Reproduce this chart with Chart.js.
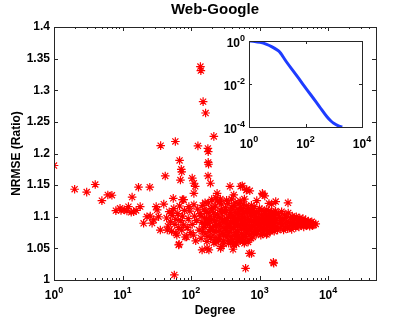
<!DOCTYPE html>
<html>
<head>
<meta charset="utf-8">
<script src="https://cdn.jsdelivr.net/npm/chart.js@4/dist/chart.umd.min.js"></script>
<style>
  html, body { margin: 0; padding: 0; background: #fff; }
  #wrap { position: relative; width: 415px; height: 319px; }
  #mainChart { position: absolute; left: 0; top: 0; }
  #insetChart { position: absolute; left: 200px; top: 28px; }
</style>
</head>
<body>
<div id="wrap">
  <canvas id="mainChart" width="415" height="319"></canvas>
  <canvas id="insetChart" width="180" height="125"></canvas>
</div>
<script>
// main scatter: [degree, NRMSE ratio]
const outlierPoints = [
  [1, 1.181], [2, 1.1435], [3, 1.139], [4, 1.151], [5, 1.1255], [6.1, 1.1345], [7, 1.134],
  [8, 1.1097], [9.2, 1.1134], [9.5, 1.11], [10.6, 1.111], [11.6, 1.109], [12.2, 1.116],
  [13.8, 1.131], [13.4, 1.107], [14.5, 1.108], [15.8, 1.11], [17.1, 1.1467], [18.1, 1.116],
  [20.3, 1.0897], [22.7, 1.1], [25, 1.1467], [25.4, 1.101], [27, 1.09], [28.5, 1.095],
  [31, 1.116], [32, 1.111], [33.6, 1.1], [35.6, 1.079], [40, 1.12], [42, 1.1645], [45, 1.079],
  [52, 1.106], [55, 1.129], [60, 1.074], [67, 1.0565], [75, 1.127], [57, 1.008],
  [137, 1.3375], [139, 1.331], [150, 1.282], [163, 1.264], [215, 1.227], [36, 1.2125],
  [59, 1.219], [126, 1.212], [176, 1.208], [178, 1.203], [68, 1.189], [72, 1.175], [73, 1.171],
  [70, 1.158], [178, 1.186], [180, 1.183], [177, 1.1645], [192, 1.153], [104, 1.161],
  [110, 1.153], [115, 1.148],
  [560, 1.149], [720, 1.141], [1190, 1.133], [910, 1.1255], [1370, 1.121], [1720, 1.124],
  [600, 1.128], [370, 1.148], [530, 1.148], [110, 1.137], [78, 1.127], [240, 1.137],
  [420, 1.1345], [640, 1.142], [650, 1.143], [1100, 1.137], [1120, 1.135], [2600, 1.122],
  [1500, 1.12],
  [66, 1.0554], [182, 1.0475], [172, 1.05], [270, 1.05], [410, 1.0486], [625, 1.0185],
  [710, 1.042], [760, 1.042], [1590, 1.028], [1610, 1.0265], [145, 1.0475], [590, 1.063],
  [275, 1.053], [6600, 1.0886]
];
const clusterPoints = [
  [44, 1.098], [46, 1.085], [48, 1.108], [50, 1.092], [52, 1.077], [53, 1.102], [56, 1.113],
  [58, 1.088], [60, 1.096], [62, 1.071], [64, 1.105], [66, 1.083], [68, 1.117], [71, 1.094],
  [73, 1.079], [75, 1.101], [78, 1.087], [80, 1.11], [82, 1.068],
  [86, 1.068], [91, 1.097], [88, 1.083], [96, 1.109], [99, 1.075], [93, 1.116],
  [104, 1.088], [108, 1.071], [112, 1.101], [117, 1.062], [121, 1.094], [125, 1.112], [110, 1.119],
  [131, 1.079], [135, 1.105], [140, 1.066], [144, 1.091], [148, 1.118], [152, 1.084], [157, 1.098], [160, 1.073],
  [166, 1.108], [170, 1.061], [174, 1.089], [179, 1.122], [184, 1.077], [189, 1.101], [194, 1.067], [198, 1.113], [186, 1.093],
  [205, 1.083], [210, 1.071], [214, 1.106], [220, 1.094], [226, 1.117], [231, 1.063], [236, 1.088], [242, 1.125], [247, 1.077], [216, 1.059],
  [255, 1.099], [260, 1.068], [266, 1.111], [272, 1.085], [279, 1.12], [285, 1.074], [291, 1.095], [298, 1.062], [304, 1.107], [310, 1.081], [268, 1.128], [300, 1.091],
  [317, 1.114], [324, 1.069], [331, 1.097], [339, 1.087], [346, 1.121], [354, 1.058], [362, 1.103], [370, 1.076], [378, 1.092], [386, 1.115], [335, 1.078], [366, 1.084],
  [395, 1.064], [404, 1.098], [413, 1.083], [422, 1.118], [431, 1.071], [441, 1.106], [450, 1.09], [460, 1.057], [470, 1.112], [478, 1.079], [418, 1.094], [455, 1.068],
  [489, 1.097], [500, 1.121], [511, 1.066], [522, 1.086], [534, 1.104], [546, 1.074], [558, 1.094], [570, 1.061], [583, 1.109], [596, 1.082], [528, 1.115], [565, 1.1],
  [610, 1.091], [624, 1.069], [638, 1.117], [652, 1.079], [667, 1.098], [682, 1.063], [697, 1.107], [713, 1.085], [729, 1.072], [745, 1.112], [660, 1.088], [720, 1.095],
  [762, 1.081], [780, 1.101], [797, 1.068], [815, 1.092], [833, 1.116], [852, 1.077], [871, 1.096], [891, 1.072], [911, 1.108], [932, 1.087],
  [953, 1.099], [975, 1.079], [997, 1.113], [1020, 1.089], [1043, 1.071], [1067, 1.103], [1091, 1.084], [1116, 1.095], [1141, 1.076], [1167, 1.108],
  [1194, 1.088], [1221, 1.098], [1249, 1.081], [1277, 1.111], [1306, 1.074], [1336, 1.093], [1366, 1.103], [1397, 1.086], [1429, 1.077], [1462, 1.097], [1495, 1.108], [1529, 1.083],
  [1564, 1.091], [1600, 1.102], [1636, 1.077], [1673, 1.094], [1711, 1.109], [1750, 1.085], [1790, 1.097], [1831, 1.079], [1873, 1.105], [1915, 1.089], [1959, 1.099], [2003, 1.082], [2049, 1.094], [2096, 1.108], [2144, 1.087],
  [2193, 1.097], [2240, 1.079], [2301, 1.103], [2346, 1.09], [2392, 1.084], [2460, 1.099], [2510, 1.093], [2571, 1.081], [2620, 1.106], [2690, 1.091], [2746, 1.085], [2815, 1.098], [2870, 1.09], [2941, 1.08], [3002, 1.101], [3080, 1.093], [3139, 1.086],
  [3220, 1.097], [3281, 1.089], [3370, 1.083], [3433, 1.1], [3521, 1.092], [3590, 1.087], [3688, 1.095], [3757, 1.084], [3852, 1.098], [3930, 1.09], [4033, 1.086], [4110, 1.094], [4218, 1.089], [4297, 1.097], [4410, 1.084],
  [4498, 1.092], [4615, 1.088], [4702, 1.095], [4826, 1.086], [4919, 1.091], [5047, 1.087], [5149, 1.093], [5280, 1.089], [5385, 1.085], [5520, 1.091], [5633, 1.088], [5775, 1.092], [5890, 1.086], [6040, 1.089], [6165, 1.087],
  [140, 1.101], [147, 1.077], [155, 1.111], [162, 1.088], [169, 1.097], [176, 1.069], [183, 1.107], [191, 1.083], [199, 1.096], [208, 1.114], [217, 1.078], [223, 1.1], [233, 1.086], [244, 1.104], [250, 1.066],
  [258, 1.09], [264, 1.079], [276, 1.098], [288, 1.108], [295, 1.072], [307, 1.094], [320, 1.082], [328, 1.11], [342, 1.071], [350, 1.099], [358, 1.089], [374, 1.107], [383, 1.069], [391, 1.081], [400, 1.102],
  [409, 1.112], [427, 1.087], [436, 1.097], [446, 1.075], [465, 1.093], [474, 1.104], [485, 1.087], [495, 1.071], [506, 1.109], [517, 1.095], [540, 1.08], [552, 1.113], [577, 1.089], [590, 1.071], [603, 1.099],
  [617, 1.108], [631, 1.084], [645, 1.074], [675, 1.092], [690, 1.113], [705, 1.079], [737, 1.104], [753, 1.066], [771, 1.093], [789, 1.11], [806, 1.086], [824, 1.074], [843, 1.105], [862, 1.091], [881, 1.082],
  [901, 1.099], [921, 1.076], [942, 1.094], [964, 1.106], [986, 1.087], [1009, 1.097], [1032, 1.08], [1055, 1.09], [1079, 1.111], [1104, 1.073], [1128, 1.1], [1154, 1.091], [1180, 1.081], [1207, 1.105],
  [1235, 1.092], [1263, 1.072], [1292, 1.099], [1321, 1.084], [1351, 1.109], [1382, 1.078], [1413, 1.09], [1445, 1.101], [1478, 1.092], [1512, 1.096], [1547, 1.079], [1582, 1.106], [1618, 1.089], [1655, 1.1], [1693, 1.083], [1731, 1.093],
  [230, 1.06], [300, 1.057], [380, 1.061], [450, 1.059], [520, 1.062], [600, 1.058], [680, 1.06], [250, 1.064], [420, 1.056], [350, 1.063], [560, 1.065], [480, 1.063],
  [160, 1.122], [200, 1.127], [260, 1.124], [330, 1.126], [440, 1.122], [580, 1.12], [760, 1.118], [230, 1.13], [390, 1.128], [520, 1.125]
];

// inset: fraction of nodes with degree >= d
const ccdfDegree = [1, 1.6, 2.5, 4, 6.3, 10, 12.6, 15.8, 22, 40, 79, 158, 316, 575, 794, 1000, 1410, 2000];
const ccdfFraction = [1, 0.955, 0.86, 0.72, 0.55, 0.38, 0.295, 0.19, 0.1, 0.035, 0.0102, 0.003, 0.00087, 0.0003, 0.00019, 0.000148, 0.000115, 0.0001];

// ticks; log axes are labelled as 10 with an exponent
const mainXTicks = [1, 10, 100, 1000, 10000];
const mainXExp = ['0', '1', '2', '3', '4'];
const mainYTicks = [1, 1.05, 1.1, 1.15, 1.2, 1.25, 1.3, 1.35, 1.4];
const mainYLabels = ['1', '1.05', '1.1', '1.15', '1.2', '1.25', '1.3', '1.35', '1.4'];
const insetXTicks = [1, 100, 10000];
const insetXExp = ['0', '2', '4'];
const insetYTicks = [0.0001, 0.01, 1];
const insetYExp = ['-4', '-2', '0'];

const FONT = "'Liberation Sans', Arial, Helvetica, sans-serif";
Chart.defaults.font.family = FONT;
Chart.defaults.color = '#000';

function logMinor(min, max) {
  const out = [];
  for (let d = 1; d <= max; d *= 10) {
    for (let k = 2; k <= 9; k++) {
      const v = k * d;
      if (v > min && v < max) out.push(v);
    }
  }
  return out;
}

function drawPower(ctx, exp, x, baseline, align) {
  ctx.font = 'bold 12px ' + FONT;
  const wb = ctx.measureText('10').width;
  ctx.font = 'bold 9px ' + FONT;
  const we = ctx.measureText(exp).width;
  const x0 = align === 'right' ? x - wb - we : x - (wb + we) / 2;
  ctx.textAlign = 'left';
  ctx.textBaseline = 'alphabetic';
  ctx.fillStyle = '#000';
  ctx.font = 'bold 12px ' + FONT;
  ctx.fillText('10', x0, baseline);
  ctx.font = 'bold 9px ' + FONT;
  ctx.fillText(exp, x0 + wb, baseline - 6);
}

// box around the plot area, inward ticks on all four sides, power-of-ten labels
const frameTicks = {
  id: 'frameTicks',
  beforeDatasetsDraw(chart, args, opts) {
    if (!opts.fill) return;
    const a = chart.chartArea, ctx = chart.ctx;
    ctx.save();
    ctx.fillStyle = opts.fill;
    ctx.fillRect(a.left, a.top, a.right - a.left, a.bottom - a.top);
    ctx.restore();
  },
  afterDraw(chart, args, opts) {
    const {ctx, chartArea: a, scales} = chart;
    ctx.save();
    ctx.strokeStyle = opts.color;
    ctx.lineWidth = 1;
    ctx.beginPath();
    const vTick = (v, len) => {
      const p = Math.round(scales.x.getPixelForValue(v)) + 0.5;
      ctx.moveTo(p, a.bottom); ctx.lineTo(p, a.bottom - len);
      ctx.moveTo(p, a.top); ctx.lineTo(p, a.top + len);
    };
    const hTick = (v, len) => {
      const p = Math.round(scales.y.getPixelForValue(v)) + 0.5;
      ctx.moveTo(a.left, p); ctx.lineTo(a.left + len, p);
      ctx.moveTo(a.right, p); ctx.lineTo(a.right - len, p);
    };
    opts.xMajor.forEach(v => vTick(v, opts.major));
    (opts.xMinor || []).forEach(v => vTick(v, opts.minor));
    opts.yMajor.forEach(v => hTick(v, opts.major));
    ctx.stroke();
    ctx.strokeRect(Math.round(a.left) + 0.5, Math.round(a.top) + 0.5,
                   Math.round(a.right - a.left), Math.round(a.bottom - a.top));
    if (opts.xExp) {
      opts.xMajor.forEach((v, i) =>
        drawPower(ctx, opts.xExp[i], scales.x.getPixelForValue(v), a.bottom + opts.xLabelOffset, 'center'));
    }
    if (opts.yExp) {
      opts.yMajor.forEach((v, i) =>
        drawPower(ctx, opts.yExp[i], a.left - 4, scales.y.getPixelForValue(v) + 5.5, 'right'));
    }
    ctx.restore();
  }
};

const toXY = arr => arr.map(p => ({x: p[0], y: p[1]}));

new Chart(document.getElementById('mainChart'), {
  type: 'scatter',
  data: {
    datasets: [{
      data: toXY(clusterPoints.concat(outlierPoints)),
      pointStyle: 'star',
      radius: 4.3,
      borderColor: 'rgb(255,0,0)',
      backgroundColor: 'rgb(255,0,0)',
      borderWidth: 1.2
    }]
  },
  options: {
    responsive: false,
    animation: false,
    devicePixelRatio: 1,
    layout: {padding: {left: 0, right: 39, top: 0, bottom: 0}},
    plugins: {
      legend: {display: false},
      tooltip: {enabled: false},
      title: {
        display: true, fullSize: false, text: 'Web-Google', color: '#000',
        font: {size: 15, weight: 'bold'}, padding: {top: 1, bottom: 8}
      },
      frameTicks: {
        color: '#262626', major: 4, minor: 2,
        xMajor: mainXTicks, xMinor: logMinor(1, 50000), yMajor: mainYTicks,
        xExp: mainXExp, xLabelOffset: 19
      }
    },
    scales: {
      x: {
        type: 'logarithmic', min: 1, max: 50000,
        grid: {display: false, drawTicks: false}, border: {display: false},
        afterBuildTicks: s => { s.ticks = mainXTicks.map(v => ({value: v})); },
        afterFit: s => { s.height = 39; },
        ticks: {display: false},
        title: {display: true, text: 'Degree', font: {size: 12, weight: 'bold'}, padding: {top: 0, bottom: 1}}
      },
      y: {
        min: 1, max: 1.4,
        grid: {display: false, drawTicks: false}, border: {display: false},
        afterBuildTicks: s => { s.ticks = mainYTicks.map(v => ({value: v})); },
        afterFit: s => { s.width = 54; },
        ticks: {
          autoSkip: false, padding: 4,
          font: {size: 12, weight: 'bold'},
          callback: v => mainYLabels[mainYTicks.indexOf(v)]
        },
        title: {display: true, text: 'NRMSE (Ratio)', font: {size: 12, weight: 'bold'}, padding: {top: 9, bottom: 0}}
      }
    }
  },
  plugins: [frameTicks]
});

new Chart(document.getElementById('insetChart'), {
  type: 'line',
  data: {
    datasets: [{
      data: ccdfDegree.map((d, i) => ({x: d, y: ccdfFraction[i]})),
      borderColor: 'rgb(30,60,255)',
      borderWidth: 3,
      pointRadius: 0,
      fill: false,
      cubicInterpolationMode: 'monotone'
    }]
  },
  options: {
    responsive: false,
    animation: false,
    devicePixelRatio: 1,
    layout: {padding: {left: 0, right: 18, top: 13, bottom: 0}},
    plugins: {
      legend: {display: false},
      tooltip: {enabled: false},
      frameTicks: {
        color: '#262626', fill: '#fff', major: 3, minor: 2,
        xMajor: insetXTicks, yMajor: insetYTicks,
        xExp: insetXExp, xLabelOffset: 21, yExp: insetYExp
      }
    },
    scales: {
      x: {
        type: 'logarithmic', min: 1, max: 10000,
        grid: {display: false, drawTicks: false}, border: {display: false},
        afterBuildTicks: s => { s.ticks = insetXTicks.map(v => ({value: v})); },
        afterFit: s => { s.height = 26; },
        ticks: {display: false}
      },
      y: {
        type: 'logarithmic', min: 0.0001, max: 1,
        grid: {display: false, drawTicks: false}, border: {display: false},
        afterBuildTicks: s => { s.ticks = insetYTicks.map(v => ({value: v})); },
        afterFit: s => { s.width = 49; },
        ticks: {display: false}
      }
    }
  },
  plugins: [frameTicks]
});
</script>
</body>
</html>
